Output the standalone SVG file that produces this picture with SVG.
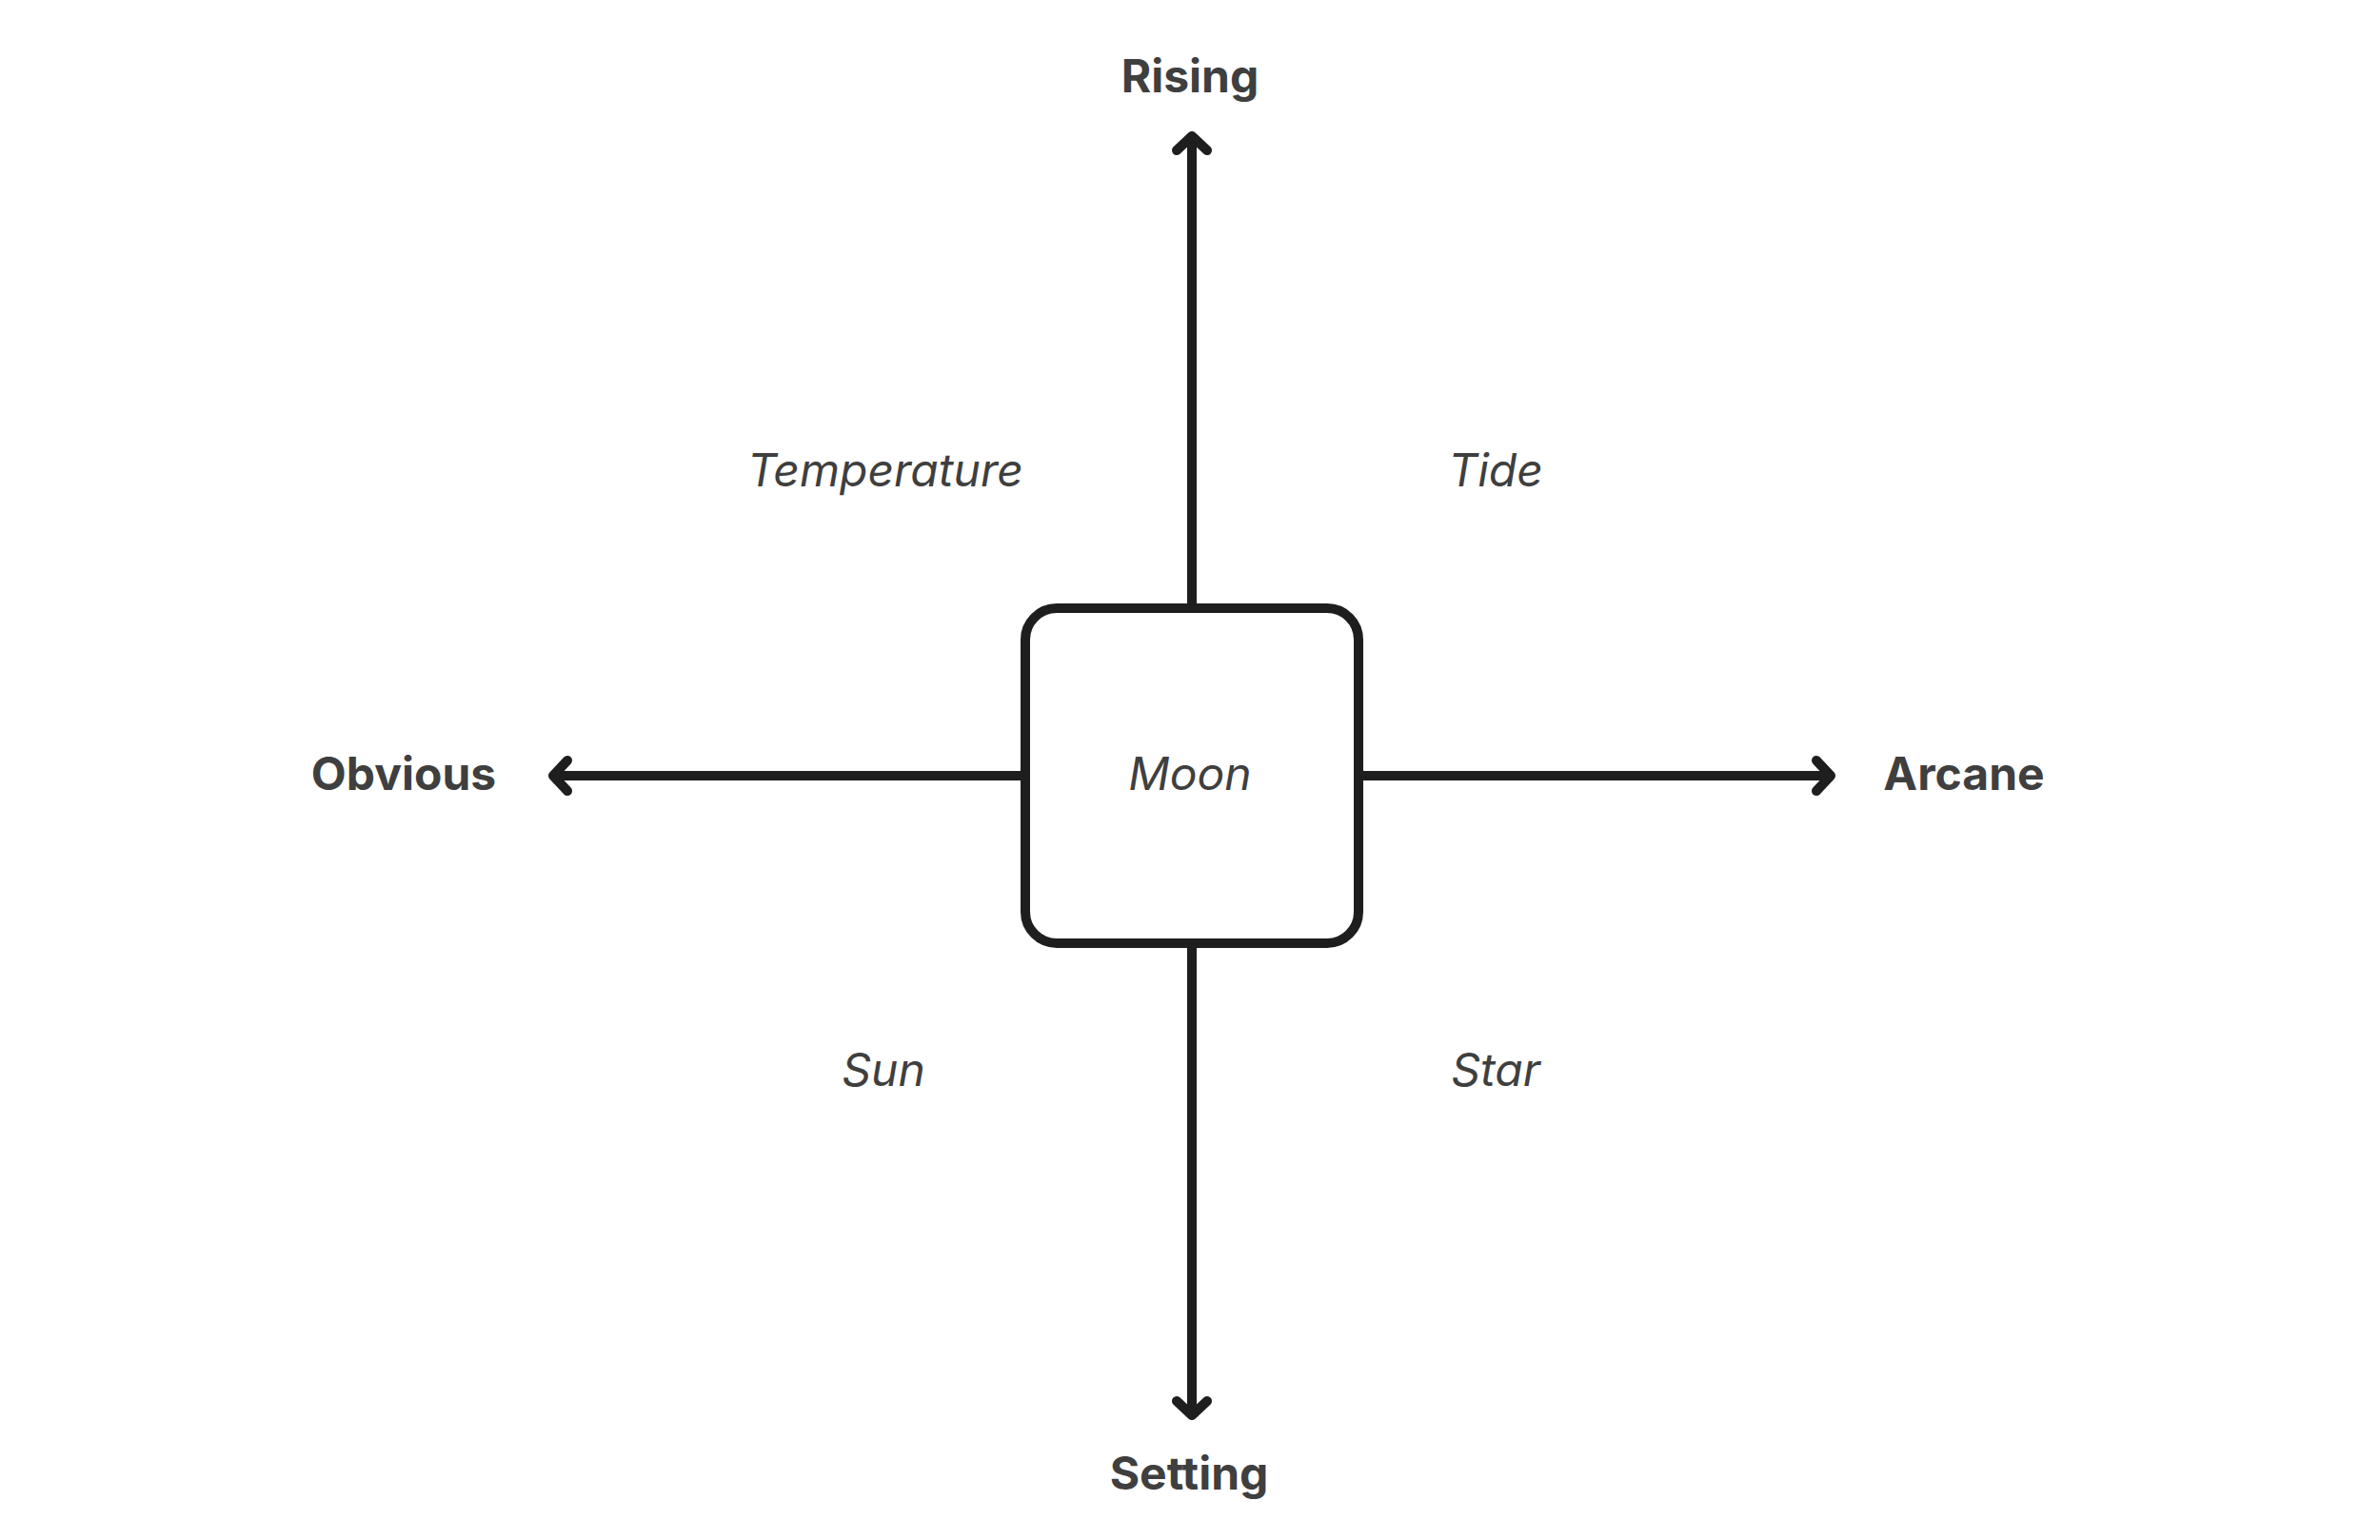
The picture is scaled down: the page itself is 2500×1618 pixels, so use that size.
<svg xmlns="http://www.w3.org/2000/svg" width="2500" height="1618" viewBox="0 0 2500 1618">
<style>
.ln{fill:none;stroke:#1e1e1e;stroke-width:10;stroke-linecap:round;stroke-linejoin:round}
.ax{font-family:Inter,"Liberation Sans",sans-serif;font-weight:700;font-size:48px;fill:#3f3f3f;text-anchor:middle}
.it{font-family:Inter,"Liberation Sans",sans-serif;font-style:italic;font-size:48px;fill:#3f3f3f;text-anchor:middle}
</style>
<rect width="2500" height="1618" fill="#ffffff"/>
<g id="connectors">
<path class="ln" d="M1252 639 V143 M1236 158 L1252 143 L1268 158"/>
<path class="ln" d="M1252 991 V1487 M1236 1472 L1252 1487 L1268 1472"/>
<path class="ln" d="M1077 815 H581 M596 799 L581 815 L596 831"/>
<path class="ln" d="M1427 815 H1923 M1908 799 L1923 815 L1908 831"/>
</g>
<g id="moon">
<rect class="ln" x="1077" y="639" width="350" height="352" rx="33" fill="#ffffff"/>
<text class="it" x="1250" y="830">Moon</text>
</g>
<g id="rising"><text class="ax" x="1250" y="97">Rising</text></g>
<g id="setting"><text class="ax" x="1249" y="1565">Setting</text></g>
<g id="obvious"><text class="ax" x="424" y="830">Obvious</text></g>
<g id="arcane"><text class="ax" x="2063" y="830">Arcane</text></g>
<g id="temperature"><text class="it" x="930" y="511">Temperature</text></g>
<g id="tide"><text class="it" x="1571" y="511">Tide</text></g>
<g id="sun"><text class="it" x="928" y="1141">Sun</text></g>
<g id="star"><text class="it" x="1571" y="1141">Star</text></g>
</svg>
